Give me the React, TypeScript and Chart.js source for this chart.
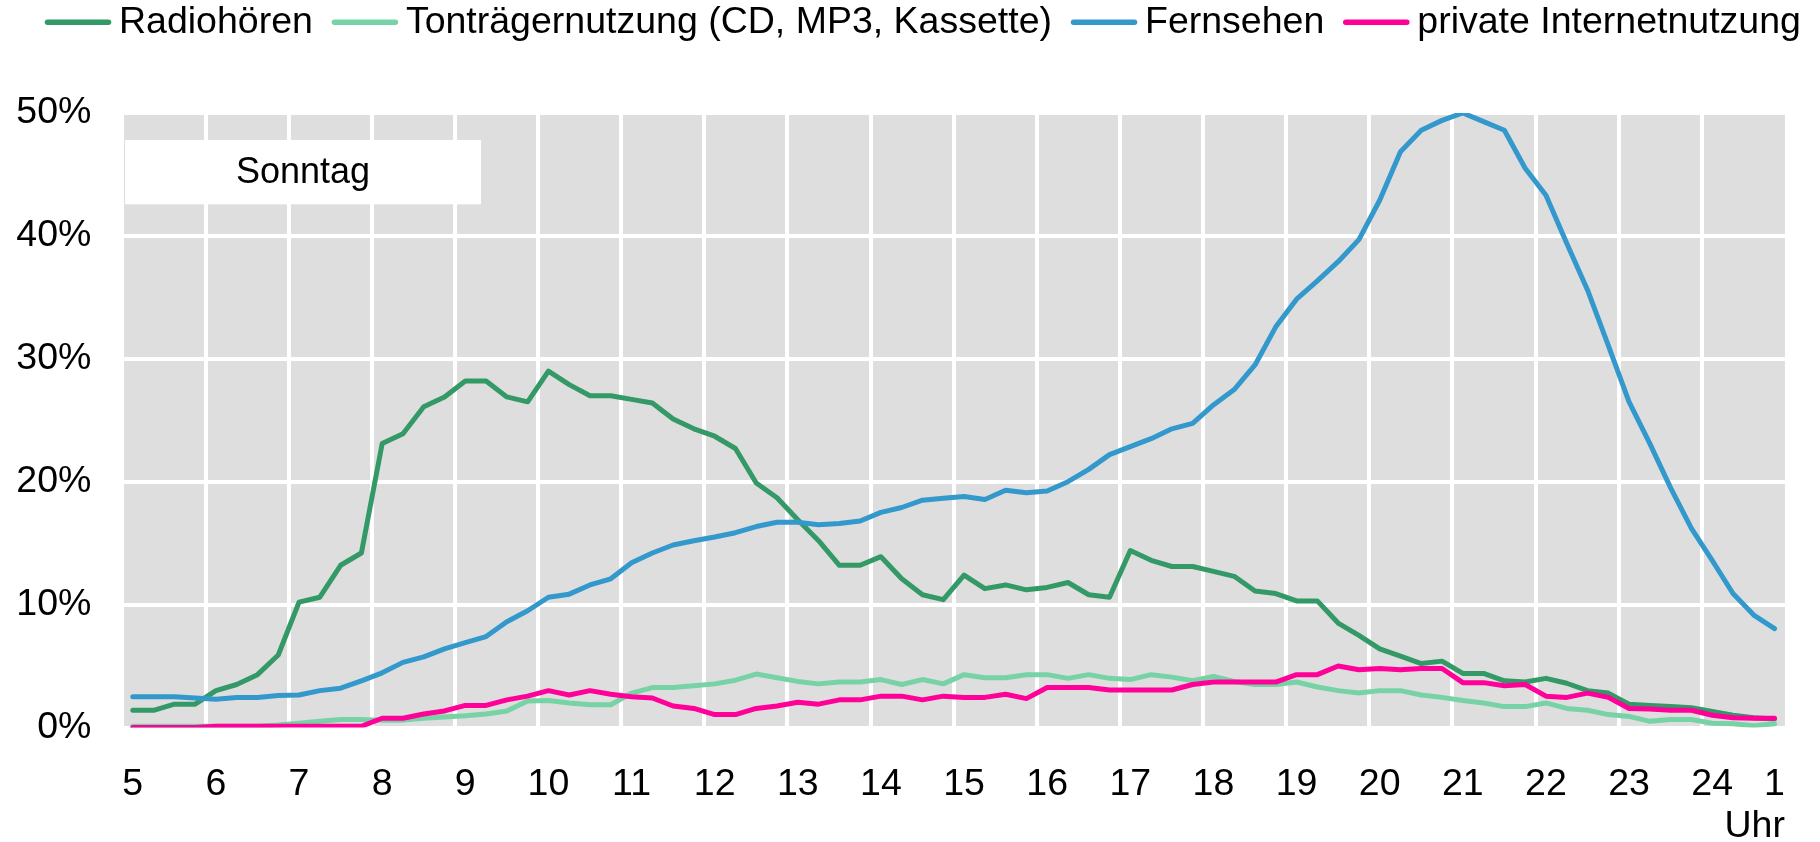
import React, { useEffect, useRef } from 'react';
import { Chart, registerables } from 'chart.js';

Chart.register(...registerables);

const FONT = '"Liberation Sans", Arial, Helvetica, sans-serif';

// quarter-hour categories, 5:00 to 0:45
const timeLabels: string[] = [
  '5:00', '5:15', '5:30', '5:45', '6:00', '6:15', '6:30', '6:45',
  '7:00', '7:15', '7:30', '7:45', '8:00', '8:15', '8:30', '8:45',
  '9:00', '9:15', '9:30', '9:45', '10:00', '10:15', '10:30', '10:45',
  '11:00', '11:15', '11:30', '11:45', '12:00', '12:15', '12:30', '12:45',
  '13:00', '13:15', '13:30', '13:45', '14:00', '14:15', '14:30', '14:45',
  '15:00', '15:15', '15:30', '15:45', '16:00', '16:15', '16:30', '16:45',
  '17:00', '17:15', '17:30', '17:45', '18:00', '18:15', '18:30', '18:45',
  '19:00', '19:15', '19:30', '19:45', '20:00', '20:15', '20:30', '20:45',
  '21:00', '21:15', '21:30', '21:45', '22:00', '22:15', '22:30', '22:45',
  '23:00', '23:15', '23:30', '23:45', '0:00', '0:15', '0:30', '0:45',
];

// hour tick labels (every 4th category) and the closing label
const hourTicks: string[] = ['5', '6', '7', '8', '9', '10', '11', '12', '13', '14', '15', '16', '17', '18', '19', '20', '21', '22', '23', '24'];
const lastTick = '1';
const yTicks: number[] = [0, 10, 20, 30, 40, 50];

const radio: number[] = [
  1.4, 1.4, 1.9, 1.9, 3.0, 3.5, 4.3, 5.9, 10.2, 10.6,
  13.2, 14.2, 23.1, 23.9, 26.1, 26.9, 28.2, 28.2, 26.9, 26.5,
  29.0, 27.9, 27.0, 27.0, 26.7, 26.4, 25.1, 24.3, 23.7, 22.7,
  19.9, 18.7, 16.9, 15.2, 13.2, 13.2, 13.9, 12.1, 10.8, 10.4,
  12.4, 11.3, 11.6, 11.2, 11.4, 11.8, 10.8, 10.6, 14.4, 13.6,
  13.1, 13.1, 12.7, 12.3, 11.1, 10.9, 10.3, 10.3, 8.5, 7.5,
  6.4, 5.8, 5.2, 5.4, 4.4, 4.4, 3.8, 3.7, 4.0, 3.6,
  3.0, 2.8, 1.9, 1.8, 1.7, 1.6, 1.3, 1.0, 0.8, 0.7,
];

const tontraeger: number[] = [
  0.1, 0.1, 0.1, 0.1, 0.1, 0.1, 0.1, 0.2, 0.35, 0.5,
  0.65, 0.65, 0.6, 0.6, 0.75, 0.85, 0.95, 1.1, 1.35, 2.15,
  2.2, 2.0, 1.85, 1.85, 2.8, 3.25, 3.25, 3.4, 3.55, 3.85,
  4.35, 4.05, 3.75, 3.55, 3.7, 3.7, 3.9, 3.5, 3.9, 3.55,
  4.3, 4.05, 4.05, 4.3, 4.3, 4.0, 4.3, 4.0, 3.9, 4.3,
  4.1, 3.8, 4.15, 3.75, 3.5, 3.5, 3.7, 3.3, 3.0, 2.8,
  3.0, 3.0, 2.65, 2.45, 2.2, 2.0, 1.7, 1.7, 2.0, 1.55,
  1.4, 1.05, 0.9, 0.5, 0.65, 0.65, 0.35, 0.3, 0.15, 0.3,
];

const fernsehen: number[] = [
  2.5, 2.5, 2.5, 2.4, 2.3, 2.45, 2.45, 2.6, 2.65, 3.0,
  3.2, 3.8, 4.45, 5.3, 5.75, 6.4, 6.9, 7.4, 8.6, 9.5,
  10.6, 10.85, 11.6, 12.1, 13.4, 14.2, 14.85, 15.2, 15.5, 15.85,
  16.35, 16.7, 16.7, 16.5, 16.6, 16.8, 17.5, 17.9, 18.5, 18.65,
  18.8, 18.55, 19.3, 19.1, 19.25, 20.0, 21.0, 22.2, 22.85, 23.5,
  24.3, 24.75, 26.25, 27.5, 29.5, 32.6, 34.85, 36.35, 37.9, 39.7,
  42.9, 46.85, 48.6, 49.4, 50.0, 49.3, 48.6, 45.5, 43.3, 39.4,
  35.6, 31.1, 26.5, 23.1, 19.5, 16.2, 13.6, 10.9, 9.15, 8.05,
];

const internet: number[] = [
  0, 0, 0, 0, 0.1, 0.1, 0.1, 0.1, 0.1, 0.1,
  0.1, 0.1, 0.75, 0.75, 1.1, 1.35, 1.8, 1.8, 2.25, 2.55,
  3.0, 2.65, 3.0, 2.7, 2.5, 2.4, 1.75, 1.55, 1.05, 1.05,
  1.55, 1.75, 2.05, 1.9, 2.25, 2.25, 2.55, 2.55, 2.25, 2.55,
  2.45, 2.45, 2.7, 2.35, 3.25, 3.25, 3.25, 3.05, 3.05, 3.05,
  3.05, 3.5, 3.7, 3.7, 3.7, 3.7, 4.3, 4.3, 5.0, 4.7,
  4.8, 4.7, 4.8, 4.8, 3.65, 3.65, 3.4, 3.5, 2.55, 2.45,
  2.8, 2.45, 1.55, 1.5, 1.4, 1.4, 1.0, 0.8, 0.75, 0.75,
];

const seriesNames: string[] = ['Radiohören', 'Tonträgernutzung (CD, MP3, Kassette)', 'Fernsehen', 'private Internetnutzung'];
const seriesColors: string[] = ['#339966', '#77D3A5', '#3399CC', '#FF0099'];
const panelTitle = 'Sonntag';

const bgPlugin = {
  id: 'bgPlugin',
  beforeDraw(chart: any) {
    const { ctx, chartArea: a } = chart;
    ctx.save();
    ctx.fillStyle = '#ffffff';
    ctx.fillRect(0, 0, chart.width, chart.height);
    ctx.fillStyle = '#dedede';
    ctx.fillRect(a.left, a.top, a.right - a.left, a.bottom - a.top);
    ctx.restore();
  },
};

const boxPlugin = {
  id: 'boxPlugin',
  beforeDatasetsDraw(chart: any) {
    const { ctx, chartArea: a } = chart;
    const x = a.left + 2.6;
    const y = a.top + 27;
    const w = 356;
    const h = 64.3;
    ctx.save();
    ctx.fillStyle = '#ffffff';
    ctx.fillRect(x, y, w, h);
    ctx.fillStyle = '#000000';
    ctx.font = `36px ${FONT}`;
    ctx.textAlign = 'center';
    ctx.textBaseline = 'middle';
    ctx.fillText(panelTitle, x + w / 2, y + h / 2 + 1);
    ctx.restore();
  },
};

const legendPlugin = {
  id: 'legendPlugin',
  afterDraw(chart: any) {
    const { ctx } = chart;
    ctx.save();
    ctx.font = `37.5px ${FONT}`;
    ctx.textBaseline = 'middle';
    ctx.textAlign = 'left';
    let x = 45;
    chart.data.datasets.forEach((ds: any) => {
      ctx.strokeStyle = ds.borderColor;
      ctx.lineWidth = 5.5;
      ctx.lineCap = 'round';
      ctx.beginPath();
      ctx.moveTo(x + 2.5, 22.3);
      ctx.lineTo(x + 66 - 2.5, 22.3);
      ctx.stroke();
      x += 66 + 8;
      ctx.fillStyle = '#000000';
      ctx.fillText(ds.label, x, 23);
      x += ctx.measureText(ds.label).width + 19;
    });
    ctx.restore();
  },
};

export default function App() {
  const ref = useRef<HTMLCanvasElement>(null);

  useEffect(() => {
    document.body.style.margin = '0';
    const canvas = ref.current;
    if (!canvas) return;
    const seriesData = [radio, tontraeger, fernsehen, internet];
    const chart = new Chart(canvas, {
      type: 'line',
      data: {
        labels: timeLabels,
        datasets: seriesData.map((d, i) => ({
          label: seriesNames[i],
          data: d,
          borderColor: seriesColors[i],
          backgroundColor: seriesColors[i],
          order: 3 - i,
        })),
      },
      options: {
        animation: false,
        responsive: false,
        maintainAspectRatio: false,
        devicePixelRatio: 1,
        events: [],
        layout: { padding: { top: 113, right: 5.6, bottom: 0, left: 0 } },
        elements: {
          line: { borderWidth: 5, tension: 0, borderJoinStyle: 'round', borderCapStyle: 'round', fill: false },
          point: { radius: 0, hoverRadius: 0 },
        },
        plugins: {
          legend: { display: false },
          tooltip: { enabled: false },
        },
        scales: {
          x: {
            type: 'category',
            offset: true,
            grid: {
              offset: true,
              drawTicks: false,
              lineWidth: 4,
              color: (c: any) => (c.index !== undefined && c.index % 4 === 0 ? '#ffffff' : 'rgba(0,0,0,0)'),
            },
            border: { display: false },
            ticks: {
              autoSkip: false,
              maxRotation: 0,
              minRotation: 0,
              padding: 35,
              color: '#000000',
              font: { family: FONT, size: 37.5 },
              callback: (_v: any, i: number) => {
                if (i % 4 === 0) return hourTicks[i / 4];
                if (i === timeLabels.length - 1) return lastTick;
                return '';
              },
            },
            title: {
              display: true,
              text: 'Uhr',
              align: 'end',
              color: '#000000',
              font: { family: FONT, size: 37.5, lineHeight: 0.8 },
              padding: 0,
            },
            afterFit: (s: any) => {
              s.height = 114.5;
            },
          },
          y: {
            min: 0,
            max: 50,
            afterBuildTicks: (s: any) => {
              s.ticks = yTicks.map((v) => ({ value: v }));
            },
            ticks: {
              padding: 31,
              color: '#000000',
              font: { family: FONT, size: 37.5 },
              callback: (v: any) => `${v}%`,
            },
            grid: { color: '#ffffff', lineWidth: 4, drawTicks: false },
            border: { display: false },
            afterFit: (s: any) => {
              s.width = 122.4;
            },
          },
        },
      } as any,
      plugins: [bgPlugin, boxPlugin, legendPlugin],
    });
    return () => chart.destroy();
  }, []);

  return (
    <div style={{ width: 1820, height: 842 }}>
      <canvas ref={ref} width={1820} height={842} style={{ display: 'block', width: 1820, height: 842 }} />
    </div>
  );
}
